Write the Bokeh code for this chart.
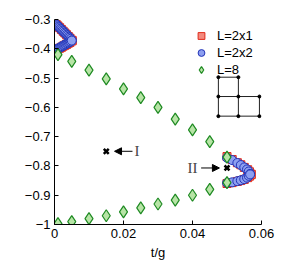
import math
from bokeh.plotting import figure
from bokeh.models import (Range1d, FixedTicker, Legend, LegendItem, Label, Arrow,
                          NormalHead)
from bokeh.embed import file_html
from bokeh.resources import INLINE

# ---------------- data ----------------
# L=8 (green diamonds)
t_l8 = [0.001, 0.005, 0.010, 0.015, 0.020, 0.025, 0.030, 0.035, 0.040, 0.045, 0.050]
up_l8 = [-0.420, -0.443, -0.473, -0.503, -0.537, -0.567, -0.600, -0.640, -0.677, -0.717, -0.770]
lo_l8 = [-0.997, -0.990, -0.980, -0.970, -0.957, -0.943, -0.930, -0.917, -0.900, -0.880, -0.857]

# L=2x2 (blue circles), low-t chevron
t_a_22 = [0.0005, 0.0008, 0.0011, 0.0014, 0.0017, 0.0020, 0.0023, 0.0026,
          0.0029, 0.0032, 0.0035, 0.0038, 0.0041, 0.0044, 0.0047, 0.0050]
up_a_22 = [-0.317, -0.320, -0.324, -0.327, -0.331, -0.334, -0.338, -0.341,
           -0.345, -0.348, -0.352, -0.355, -0.359, -0.362, -0.366, -0.371]
lo_a_22 = [-0.403, -0.401, -0.399, -0.397, -0.395, -0.393, -0.391, -0.389,
           -0.387, -0.385, -0.383, -0.381, -0.379, -0.377, -0.375, -0.372]
# L=2x2, high-t chevron
t_b_22 = [0.050, 0.0515, 0.053, 0.054, 0.055, 0.0558, 0.0563, 0.0567]
up_b_22 = [-0.772, -0.780, -0.790, -0.797, -0.805, -0.812, -0.819, -0.827]
lo_b_22 = [-0.858, -0.856, -0.852, -0.849, -0.845, -0.840, -0.834, -0.829]

# L=2x1 (red squares)
t_a_21 = [0.0005, 0.0010, 0.0015, 0.0020, 0.0025, 0.0030, 0.0035, 0.0040, 0.0045, 0.0051]
up_a_21 = [-0.317, -0.322, -0.328, -0.334, -0.340, -0.346, -0.352, -0.358, -0.364, -0.371]
lo_a_21 = [-0.404, -0.401, -0.398, -0.395, -0.391, -0.388, -0.385, -0.381, -0.378, -0.373]
t_b_21 = [0.050, 0.0515, 0.053, 0.054, 0.055, 0.056, 0.0565, 0.057]
up_b_21 = [-0.768, -0.778, -0.789, -0.796, -0.805, -0.813, -0.820, -0.828]
lo_b_21 = [-0.860, -0.857, -0.853, -0.850, -0.846, -0.840, -0.835, -0.830]

# marked points I and II
cross_t = [0.015, 0.050]
cross_y = [-0.750, -0.807]

x_ticks = [0, 0.02, 0.04, 0.06]
x_tick_labels = ["0", "0.02", "0.04", "0.06"]
y_ticks = [-1, -0.9, -0.8, -0.7, -0.6, -0.5, -0.4, -0.3]
y_tick_labels = ["\u22121", "\u22120.9", "\u22120.8", "\u22120.7", "\u22120.6", "\u22120.5", "\u22120.4", "\u22120.3"]

legend_labels = ["L=2x1", "L=2x2", "L=8"]

# lattice inset nodes (data coords) and bonds (index pairs)
lat_x = [0.0475, 0.0533, 0.0475, 0.0533, 0.0594, 0.0475, 0.0533, 0.0594]
lat_y = [-0.497, -0.497, -0.563, -0.563, -0.563, -0.630, -0.630, -0.630]
lat_bonds = [(0, 1), (2, 3), (3, 4), (5, 6), (6, 7), (0, 2), (2, 5), (1, 3), (3, 6), (4, 7)]

FONT = "Liberation Sans"

p = figure(width=283, height=262,
           min_border_left=54, min_border_right=22, min_border_top=19, min_border_bottom=33,
           x_range=Range1d(0, 0.06), y_range=Range1d(-1, -0.3),
           output_backend="svg", toolbar_location=None)
p.outline_line_color = None
p.grid.visible = False
p.background_fill_color = "white"

for ax in (p.xaxis[0], p.yaxis[0]):
    ax.major_tick_in = 4
    ax.major_tick_out = 0
    ax.minor_tick_in = 0
    ax.minor_tick_out = 0
    ax.axis_line_color = "black"
    ax.major_tick_line_color = "black"
    ax.major_label_text_font = FONT
    ax.major_label_text_font_size = "13px"
    ax.major_label_text_color = "black"
    ax.axis_label_text_font = FONT
    ax.axis_label_text_font_size = "13px"
    ax.axis_label_text_font_style = "normal"
    ax.axis_label_text_color = "black"

p.xaxis.ticker = FixedTicker(ticks=x_ticks)
p.xaxis.major_label_overrides = {k: v for k, v in zip(x_ticks, x_tick_labels)}
p.xaxis.major_label_standoff = 4
p.xaxis.axis_label = "t/g"
p.xaxis.axis_label_standoff = 4
p.yaxis.ticker = FixedTicker(ticks=y_ticks)
p.yaxis.major_label_overrides = {k: v for k, v in zip(y_ticks, y_tick_labels)}
p.yaxis.major_label_standoff = 4

# lattice inset
p.segment(x0=[lat_x[a] for a, b in lat_bonds], y0=[lat_y[a] for a, b in lat_bonds],
          x1=[lat_x[b] for a, b in lat_bonds], y1=[lat_y[b] for a, b in lat_bonds],
          line_color="#222222", line_width=1)
p.scatter(lat_x, lat_y, size=3, color="black")

RED_F, RED_E = "#f38a7e", "#e02a1a"
BLUE_F, BLUE_E = "#8d9ff0", "#2334b8"
GRN_F, GRN_E = "#b7e4a6", "#1e8a22"

r21 = []
r22 = []
for tt, yy in [(t_a_21, up_a_21), (t_a_21, lo_a_21), (t_b_21, up_b_21), (t_b_21, lo_b_21)]:
    r21.append(p.scatter(tt, yy, marker="square", size=8, fill_color=RED_F, line_color=RED_E, line_width=1))
for tt, yy in [(t_a_22, up_a_22), (t_a_22, lo_a_22), (t_b_22, up_b_22), (t_b_22, lo_b_22)]:
    r22.append(p.scatter(tt, yy, marker="circle", size=9, fill_color=BLUE_F, line_color=BLUE_E, line_width=1))
r8 = []
for yy in (up_l8, lo_l8):
    r8.append(p.scatter(t_l8, yy, marker="diamond", size=12, fill_color=GRN_F, line_color=GRN_E, line_width=1.2))

p.scatter(cross_t, cross_y, marker="x", size=7, line_color="black", line_width=2.5)

# arrows and labels I / II
arr_x0 = [0.0226, 0.0425]
arr_x1 = [0.0174, 0.0478]
arr_y = [-0.750, -0.807]
for xs, xe, yv in zip(arr_x0, arr_x1, arr_y):
    p.add_layout(Arrow(end=NormalHead(size=7, fill_color="black", line_color="black"),
                       x_start=xs, y_start=yv, x_end=xe, y_end=yv,
                       line_color="black", line_width=1))
p.add_layout(Label(x=0.0232, y=-0.750, text="I", text_font="Liberation Serif",
                   text_font_size="15px", text_align="left", text_baseline="middle"))
p.add_layout(Label(x=0.0400, y=-0.807, text="II", text_font="Liberation Serif",
                   text_font_size="15px", text_align="center", text_baseline="middle"))

# y axis label composed: (μ−ω_c)/g
ylab_kw = dict(x_units="screen", y_units="screen", angle=math.pi / 2,
               text_font=FONT, text_align="left", text_baseline="alphabetic", text_color="black")
p.add_layout(Label(x=-39, y=81, text="(\u03bc\u2212\u03c9", text_font_size="13px", **ylab_kw))
p.add_layout(Label(x=-36, y=109.5, text="c", text_font_size="9px", **ylab_kw))
p.add_layout(Label(x=-39, y=114, text=")/g", text_font_size="13px", **ylab_kw))

legend = Legend(items=[LegendItem(label=legend_labels[0], renderers=[r21[0]]),
                       LegendItem(label=legend_labels[1], renderers=[r22[0]]),
                       LegendItem(label=legend_labels[2], renderers=[r8[0]])],
                location=(137, 146), orientation="vertical",
                glyph_width=20, glyph_height=17, label_height=17, spacing=0,
                label_standoff=6, padding=0, margin=0,
                border_line_alpha=0, background_fill_alpha=0,
                label_text_font=FONT, label_text_font_size="13px", label_text_color="black")
p.add_layout(legend)

open("out.html", "w").write(file_html(p, INLINE))
